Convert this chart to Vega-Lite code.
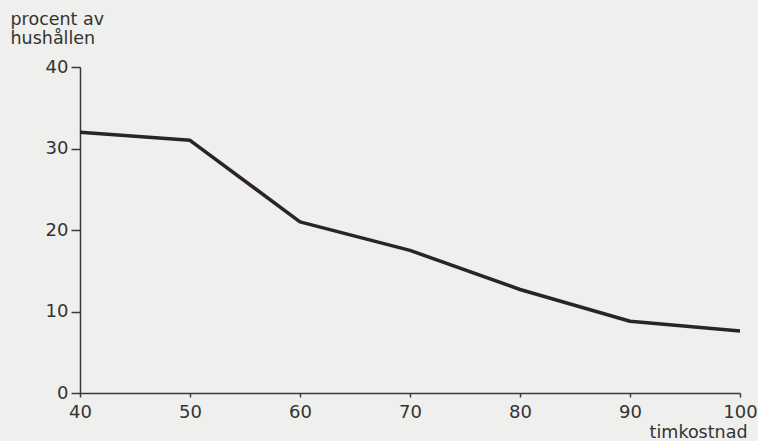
{
  "$schema": "https://vega.github.io/schema/vega-lite/v6.json",
  "width": 660,
  "height": 326,
  "autosize": {"type": "none"},
  "padding": {"left": 80, "top": 67, "right": 18, "bottom": 48},
  "background": "#efefed",
  "config": {
    "view": {"stroke": null},
    "font": "DejaVu Sans",
    "axis": {
      "grid": false,
      "domainColor": "#3a3a3a",
      "domainWidth": 1.5,
      "tickColor": "#3a3a3a",
      "tickWidth": 1.5,
      "labelFont": "DejaVu Sans",
      "labelFontSize": 18,
      "labelColor": "#333333",
      "titleFont": "DejaVu Sans",
      "titleFontSize": 17.5,
      "titleFontWeight": "normal",
      "titleColor": "#333333"
    }
  },
  "data": {
    "values": [
      {"timkostnad": 40, "procent": 32.0},
      {"timkostnad": 50, "procent": 31.0},
      {"timkostnad": 60, "procent": 21.0},
      {"timkostnad": 70, "procent": 17.5},
      {"timkostnad": 80, "procent": 12.7},
      {"timkostnad": 90, "procent": 8.8},
      {"timkostnad": 100, "procent": 7.6}
    ]
  },
  "mark": {"type": "line", "color": "#2b2327", "strokeWidth": 3.5, "strokeJoin": "round"},
  "encoding": {
    "x": {
      "field": "timkostnad",
      "type": "quantitative",
      "scale": {"domain": [40, 100], "nice": false, "zero": false},
      "axis": {
        "values": [40, 50, 60, 70, 80, 90, 100],
        "tickSize": 4,
        "labelPadding": 6,
        "labelFlush": false,
        "title": "timkostnad",
        "titleAnchor": "end",
        "titleAlign": "right",
        "titleBaseline": "alphabetic",
        "titleX": 667,
        "titleY": 44
      }
    },
    "y": {
      "field": "procent",
      "type": "quantitative",
      "scale": {"domain": [0, 40], "nice": false},
      "axis": {
        "values": [0, 10, 20, 30, 40],
        "tickSize": 9,
        "labelPadding": 3,
        "labelFlush": false,
        "title": ["procent av", "hushållen"],
        "titleAngle": 0,
        "titleAlign": "left",
        "titleBaseline": "alphabetic",
        "titleLineHeight": 19,
        "titleX": -70,
        "titleY": -43
      }
    }
  }
}
